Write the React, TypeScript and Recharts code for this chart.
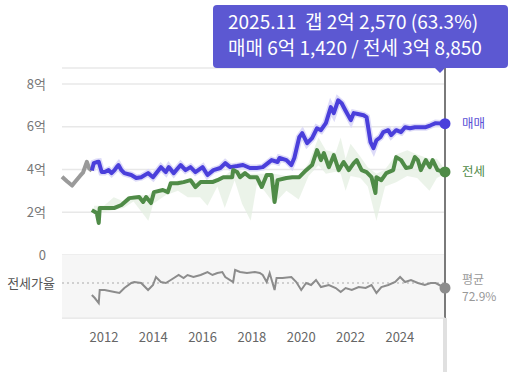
import {
  ComposedChart, Line, Area, XAxis, YAxis, CartesianGrid,
  ReferenceLine, ReferenceArea,
} from 'recharts'

const FONT = "'Noto Sans CJK KR', 'Noto Sans', sans-serif"

// 매매 (before the 전세 series starts, drawn in gray)
const earlyDates = [2010.30, 2010.50, 2010.71, 2010.85, 2011.03, 2011.15, 2011.31, 2011.40, 2011.51]
const earlyBuy = [3.66, 3.45, 3.25, 3.45, 3.70, 3.85, 4.36, 4.05, 3.95]

const buyDates = [
  2011.51, 2011.59, 2011.71, 2011.79, 2011.91, 2012.03, 2012.19, 2012.31, 2012.43, 2012.51,
  2012.59, 2012.71, 2012.83, 2013.11, 2013.31, 2013.51, 2013.79, 2013.99, 2014.31, 2014.51,
  2014.63, 2014.83, 2015.11, 2015.31, 2015.51, 2015.71, 2016.00, 2016.20, 2016.44, 2016.72,
  2016.92, 2017.12, 2017.40, 2017.64, 2017.92, 2018.20, 2018.44, 2018.80, 2019.04, 2019.12,
  2019.40, 2019.60, 2019.72, 2019.92, 2020.04, 2020.24, 2020.44, 2020.64, 2020.80, 2021.00,
  2021.20, 2021.32, 2021.50, 2021.64, 2021.80, 2022.01, 2022.13, 2022.30, 2022.53, 2022.65,
  2022.81, 2022.93, 2023.05, 2023.21, 2023.33, 2023.53, 2023.65, 2023.85, 2024.05, 2024.21,
  2024.41, 2024.61, 2024.85, 2025.05, 2025.25, 2025.45, 2025.83,
]
const buyValues = [
  3.95, 4.30, 4.35, 4.36, 3.88, 3.88, 3.97, 3.83, 3.97, 4.10,
  4.21, 3.97, 3.83, 3.74, 3.60, 3.64, 3.83, 3.64, 4.11, 3.88,
  4.11, 3.83, 4.21, 3.97, 4.11, 3.88, 4.11, 3.74, 3.97, 4.07,
  4.30, 4.11, 4.16, 4.21, 4.07, 4.07, 4.11, 4.44, 4.35, 4.54,
  4.44, 4.21, 4.54, 5.51, 5.70, 5.23, 5.47, 5.93, 5.84, 6.17,
  6.92, 6.64, 7.24, 7.10, 6.75, 6.31, 6.64, 6.60, 6.54, 6.45,
  5.28, 5.00, 5.37, 5.51, 5.75, 5.84, 5.61, 5.84, 5.75, 5.98,
  5.93, 5.98, 5.98, 5.98, 6.07, 6.17, 6.142,
]

const jeonseDates = [
  2011.51, 2011.71, 2011.79, 2011.83, 2012.19, 2012.43, 2012.71, 2013.03, 2013.43, 2013.59,
  2013.71, 2013.91, 2014.03, 2014.39, 2014.59, 2014.71, 2014.99, 2015.23, 2015.51, 2015.71,
  2015.92, 2016.20, 2016.40, 2016.60, 2016.84, 2017.20, 2017.24, 2017.40, 2017.52, 2017.72,
  2017.92, 2018.20, 2018.40, 2018.60, 2018.80, 2018.92, 2019.04, 2019.40, 2019.64, 2019.92,
  2020.20, 2020.44, 2020.64, 2020.80, 2020.92, 2021.12, 2021.32, 2021.52, 2021.72, 2021.93,
  2022.13, 2022.25, 2022.45, 2022.65, 2022.85, 2023.01, 2023.05, 2023.25, 2023.45, 2023.73,
  2023.85, 2024.05, 2024.25, 2024.45, 2024.61, 2024.73, 2024.85, 2025.05, 2025.21, 2025.33,
  2025.53, 2025.83,
]
const jeonseValues = [
  2.10, 1.96, 1.50, 2.20, 2.20, 2.20, 2.34, 2.66, 2.71, 2.48,
  2.71, 2.43, 2.94, 3.04, 2.94, 3.36, 3.36, 3.41, 3.50, 3.18,
  3.41, 3.41, 3.41, 3.50, 3.64, 3.64, 3.97, 3.88, 3.64, 3.83,
  3.64, 3.64, 3.18, 3.74, 3.74, 2.48, 3.50, 3.60, 3.64, 3.64,
  3.97, 4.21, 4.91, 4.44, 4.77, 4.11, 4.67, 3.97, 4.35, 3.97,
  4.30, 4.44, 3.97, 3.88, 3.64, 2.90, 3.64, 3.50, 3.83, 3.97,
  4.58, 4.44, 4.07, 4.11, 4.58, 4.44, 3.97, 4.44, 4.11, 4.44,
  3.97, 3.885,
]

// 전세 min / max band
const bandDates = [
  2011.60, 2012.00, 2012.40, 2012.80, 2013.20, 2013.80, 2014.00, 2014.50, 2015.00, 2015.40,
  2015.90, 2016.20, 2016.60, 2016.90, 2017.30, 2017.60, 2017.95, 2018.20, 2018.50, 2018.90,
  2019.40, 2019.90, 2020.30, 2020.70, 2021.00, 2021.40, 2021.60, 2021.80, 2022.00, 2022.40,
  2022.70, 2023.05, 2023.40, 2023.85, 2024.30, 2024.70, 2025.20, 2025.50, 2025.83,
]
const bandLow = [
  1.90, 2.00, 2.10, 2.20, 2.50, 1.60, 2.40, 2.80, 3.00, 2.70,
  2.70, 2.30, 3.20, 2.20, 3.50, 2.40, 1.60, 3.30, 3.00, 2.40,
  3.00, 2.60, 3.70, 4.20, 3.80, 3.90, 3.80, 3.00, 3.70, 3.60,
  3.20, 1.60, 3.20, 3.40, 3.70, 3.60, 3.00, 3.60, 3.80,
]
const bandHigh = [
  2.30, 2.30, 2.70, 2.50, 2.80, 2.80, 3.00, 3.10, 3.50, 3.50,
  3.50, 3.50, 3.60, 3.70, 4.10, 3.90, 3.80, 3.80, 3.80, 3.80,
  3.70, 3.70, 4.30, 5.50, 4.90, 4.80, 5.50, 4.50, 5.20, 4.60,
  4.10, 3.80, 4.00, 4.70, 4.90, 4.70, 4.50, 4.50, 4.00,
]

// 전세가율 (%)
const ratioDates = [
  2011.51, 2011.63, 2011.79, 2011.83, 2012.03, 2012.43, 2012.63, 2012.83, 2013.11, 2013.23,
  2013.51, 2013.79, 2013.99, 2014.11, 2014.31, 2014.51, 2014.71, 2015.03, 2015.23, 2015.39,
  2015.63, 2015.92, 2016.20, 2016.40, 2016.60, 2016.80, 2016.92, 2017.24, 2017.32, 2017.52,
  2017.80, 2018.12, 2018.32, 2018.44, 2018.60, 2018.72, 2018.92, 2019.00, 2019.24, 2019.60,
  2019.80, 2020.00, 2020.20, 2020.40, 2020.60, 2020.80, 2021.12, 2021.40, 2021.60, 2021.80,
  2022.05, 2022.33, 2022.61, 2022.85, 2023.05, 2023.25, 2023.53, 2023.81, 2024.01, 2024.21,
  2024.45, 2024.73, 2025.01, 2025.25, 2025.45, 2025.83,
]
const ratioValues = [
  49.8, 44.0, 34.4, 59.4, 59.4, 55.6, 53.7, 63.3, 72.9, 74.8,
  72.9, 59.4, 69.0, 84.4, 74.8, 72.9, 78.7, 88.3, 82.5, 88.3,
  84.4, 88.3, 94.0, 88.3, 92.1, 94.0, 84.4, 74.8, 97.9, 94.0,
  92.1, 94.0, 92.1, 88.3, 74.8, 92.1, 59.4, 82.5, 82.5, 84.4,
  74.8, 59.4, 72.9, 69.0, 78.7, 65.2, 69.0, 63.3, 55.6, 63.3,
  59.4, 65.2, 63.3, 69.0, 53.7, 65.2, 69.0, 74.8, 84.4, 74.8,
  78.7, 72.9, 69.0, 72.9, 72.9, 63.3,
]
const AVG_RATIO = 72.9

const yearTicks = [2012, 2014, 2016, 2018, 2020, 2022, 2024]
const priceTicks = [0, 2, 4, 6, 8]
const FIRST_DATE = 2010.30
const LAST_DATE = 2025.83

const zip = (ds: number[], vs: number[]) => ds.map((d, i) => ({ d, v: vs[i] }))
const earlyData = zip(earlyDates, earlyBuy)
const buyData = zip(buyDates, buyValues)
const jeonseData = zip(jeonseDates, jeonseValues)
const ratioData = zip(ratioDates, ratioValues)
const bandData = bandDates.map((d, i) => ({ d, v: [bandLow[i], bandHigh[i]] }))

const BLUE = '#4a3fdb'
const GREEN = '#4f8b47'
const GRAY = '#8c8c8c'

// eslint-disable-next-line @typescript-eslint/no-explicit-any
const endDot = (count: number, color: string, lines: string[], textColor: string) => (p: any) => {
  if (p.index !== count - 1) return <g key={`d-${p.index}`} />
  const gap = lines.length > 1 ? 17.5 : 0
  return (
    <g key={`d-${p.index}`}>
      <circle cx={p.cx} cy={p.cy} r={5.5} fill={color} stroke="none" />
      {lines.map((t, i) => (
        <text
          key={t}
          x={p.cx + 17}
          y={p.cy + 4.5 + (i - (lines.length - 1) / 2) * gap}
          fill={textColor}
          fontSize={lines.length > 1 ? 12 : 12.5}
          fontFamily={FONT}
        >{t}</text>
      ))}
    </g>
  )
}

// eslint-disable-next-line @typescript-eslint/no-explicit-any
const cursorLine = (p: any) => {
  const top = Math.min(p.y1, p.y2)
  const bottom = Math.max(p.y1, p.y2)
  return (
    <g>
      <line x1={p.x1} x2={p.x1} y1={top} y2={bottom} stroke="#7a7a7a" strokeWidth={2} />
      <line x1={p.x1} x2={p.x1} y1={bottom} y2={bottom + 54} stroke="#e0e0e0" strokeWidth={4} />
    </g>
  )
}

const axisTick = { fill: '#777', fontSize: 13, fontFamily: FONT }

export default function App() {
  return (
    <div style={{ position: 'absolute', left: 0, top: 0, width: 512, height: 372, fontFamily: FONT, background: '#fff' }}>
      <ComposedChart width={512} height={372} margin={{ top: 68, right: 67, bottom: 24, left: 0 }}>
        <XAxis
          dataKey="d" type="number" domain={[FIRST_DATE, LAST_DATE]} ticks={yearTicks}
          tick={{ ...axisTick, fill: '#666' }} tickLine={false}
          axisLine={{ stroke: '#e6e6e6' }} tickMargin={9}
        />
        <YAxis
          yAxisId="price" domain={[-2.95, 8.75]} ticks={priceTicks}
          width={62} tick={axisTick} tickLine={false} axisLine={false} tickMargin={10}
          tickFormatter={(v: number) => (v === 0 ? '0' : `${v}억`)}
        />
        <YAxis yAxisId="ratio" hide domain={[5.6, 486.4]} />
        <ReferenceArea yAxisId="price" y1={-2.95} y2={0} fill="#f6f6f6" fillOpacity={1} stroke="none" />
        <CartesianGrid yAxisId="price" vertical={false} stroke="#e8e8e8" strokeWidth={1.5} />
        <ReferenceLine
          yAxisId="ratio" y={AVG_RATIO} stroke="#aaa" strokeDasharray="2 3"
          label={{ value: '전세가율', position: 'left', offset: 7, fill: '#555', fontSize: 13, fontFamily: FONT }}
        />
        <Area
          yAxisId="price" data={bandData} dataKey="v" type="linear"
          fill="#e4efe1" fillOpacity={0.75} stroke="none" isAnimationActive={false}
        />
        <Line
          yAxisId="price" data={buyData} dataKey="v" type="linear"
          stroke="#dddbf8" strokeWidth={7} dot={false} activeDot={false} isAnimationActive={false}
        />
        <Line
          yAxisId="price" data={earlyData} dataKey="v" type="linear"
          stroke="#9a9a9a" strokeWidth={4} strokeLinejoin="round" dot={false} activeDot={false} isAnimationActive={false}
        />
        <Line
          yAxisId="price" data={buyData} dataKey="v" type="linear"
          stroke={BLUE} strokeWidth={4} strokeLinejoin="round" activeDot={false} isAnimationActive={false}
          dot={endDot(buyData.length, BLUE, ['매매'], '#5a50d6')}
        />
        <Line
          yAxisId="price" data={jeonseData} dataKey="v" type="linear"
          stroke={GREEN} strokeWidth={4} strokeLinejoin="round" activeDot={false} isAnimationActive={false}
          dot={endDot(jeonseData.length, GREEN, ['전세'], '#4f8a47')}
        />
        <Line
          yAxisId="ratio" data={ratioData} dataKey="v" type="linear"
          stroke={GRAY} strokeWidth={2} activeDot={false} isAnimationActive={false}
          dot={endDot(ratioData.length, GRAY, ['평균', `${AVG_RATIO}%`], '#999')}
        />
        <ReferenceLine yAxisId="price" x={LAST_DATE} shape={cursorLine} />
      </ComposedChart>
      <div style={{
        position: 'absolute', left: 213, top: 5, width: 295, height: 63, boxSizing: 'border-box',
        background: '#5c58d2', borderRadius: 4, color: '#fff', fontSize: 19,
        padding: '3px 0 0 15px', lineHeight: '26px', whiteSpace: 'pre',
      }}>
        <div>2025.11  갭 2억 2,570 (63.3%)</div>
        <div>매매 6억 1,420 / 전세 3억 8,850</div>
        <div style={{
          position: 'absolute', left: 222, bottom: -5, width: 0, height: 0,
          borderLeft: '5px solid transparent', borderRight: '5px solid transparent',
          borderTop: '5px solid #5c58d2',
        }} />
      </div>
    </div>
  )
}
